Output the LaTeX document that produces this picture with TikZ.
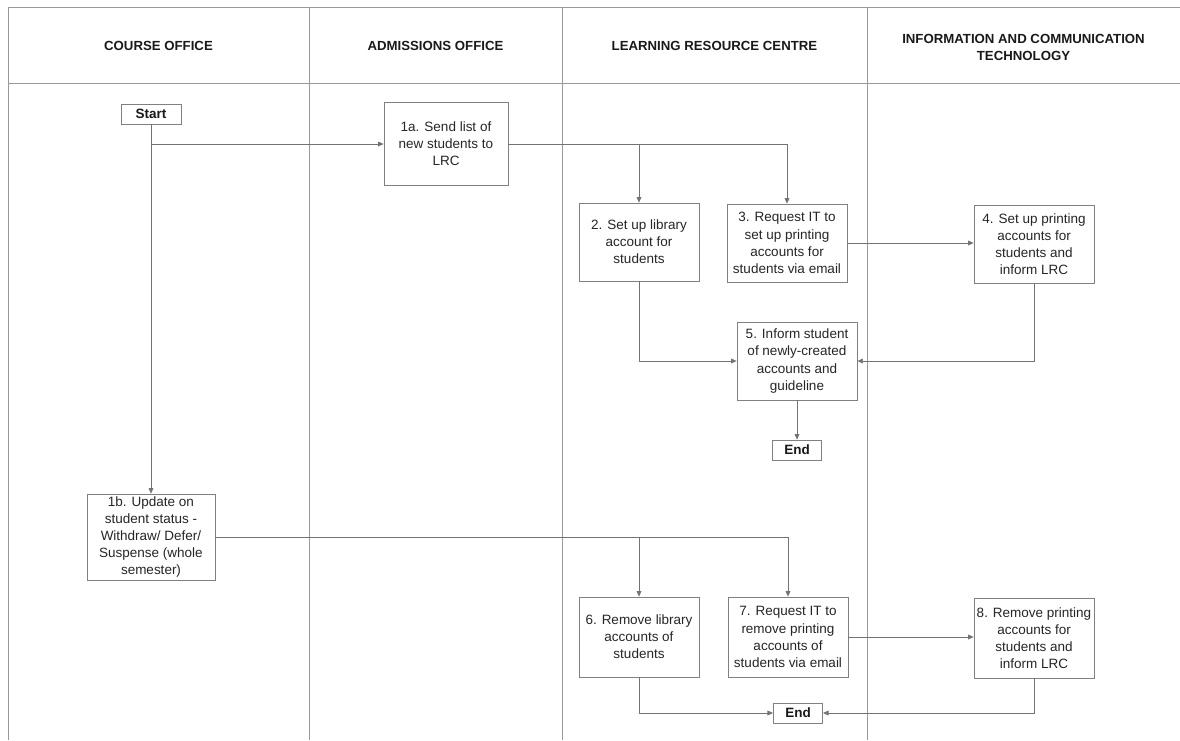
\documentclass[tikz,border=0pt]{standalone}
\usepackage{fontspec}
\setmainfont{Liberation Sans}
\usetikzlibrary{arrows.meta}

\begin{document}
\begin{tikzpicture}[x=2.5mm, y=2.5mm,
    lane/.style = {draw=black!40, line width=.5pt},
    lanehead/.style = {font=\fontsize{9.4}{12}\selectfont\bfseries, align=center, text=black!90},
    task/.style = {draw=black!50, line width=.5pt, fill=white, align=center, inner sep=1pt,
                   minimum width=30mm, minimum height=19.5mm,
                   font=\fontsize{9.6}{12.2}\selectfont, text=black!85},
    term/.style = {draw=black!50, line width=.5pt, fill=white, inner sep=1pt,
                   minimum width=12.3mm, minimum height=5mm,
                   font=\fontsize{9.6}{11}\selectfont\bfseries, text=black!90},
    flow/.style = {draw=black!55, line width=.5pt, -{Triangle[length=1.4mm,width=1.2mm]}}]
		\useasboundingbox (0,0) rectangle (118,-74);
		\begin{scope}
		\draw[lane] (118,-0.75) -- (0.8,-0.75) -- (0.8,-74);
		\draw[lane] (0.8,-8.3) -- (118,-8.3);
		\draw[lane] (30.9,-0.75) -- (30.9,-74);
		\draw[lane] (56.2,-0.75) -- (56.2,-74);
		\draw[lane] (86.7,-0.75) -- (86.7,-74);
		\node[lanehead] (hcourse) at (15.85,-4.6) {COURSE OFFICE};
		\node[lanehead] (hadmit) at (43.55,-4.6) {ADMISSIONS OFFICE};
		\node[lanehead] (hlrc) at (71.45,-4.6) {LEARNING RESOURCE CENTRE};
		\node[lanehead] (hict) at (102.35,-4.75) {INFORMATION AND COMMUNICATION\\TECHNOLOGY};
		\end{scope}

		\node[term, minimum width=15mm] (start) at (15.1,-11.4) {Start};
		\node[task, minimum width=31mm, minimum height=20.7mm] (n1a) at (44.6,-14.4) {1a. Send list of\\new students to\\LRC};
		\node[task] (n2) at (63.9,-24.2) {2. Set up library\\account for\\students};
		\node[task] (n3) at (78.7,-24.3) {3. Request IT to\\set up printing\\accounts for\\students via email};
		\node[task] (n4) at (103.4,-24.4) {4. Set up printing\\accounts for\\students and\\inform LRC};
		\node[task] (n5) at (79.7,-36.1) {5. Inform student\\of newly-created\\accounts and\\guideline};
		\node[term] (end1) at (79.7,-45.0) {End};
		\node[task, minimum width=32mm, minimum height=21.5mm] (n1b) at (15.1,-53.7) {1b. Update on\\student status -\\Withdraw/ Defer/\\Suspense (whole\\semester)};
		\node[task, minimum height=20mm] (n6) at (63.9,-63.7) {6. Remove library\\accounts of\\students};
		\node[task, minimum height=20mm] (n7) at (78.8,-63.7) {7. Request IT to\\remove printing\\accounts of\\students via email};
		\node[task, minimum height=20mm] (n8) at (103.4,-63.8) {8. Remove printing\\accounts for\\students and\\inform LRC};
		\node[term] (end2) at (79.8,-71.3) {End};

		\draw[flow] (start.south) -- (n1b.north);
		\draw[flow] (start.south |- n1a.west) -- (n1a.west);
		\draw[flow] (n1a.east) -| (n3.north);
		\draw[flow] (n1a.east -| n2.north) -- (n2.north);
		\draw[flow] (n3.east) -- (n3.east -| n4.west);
		\draw[flow] (n2.south) |- (n5.west);
		\draw[flow] (n4.south) |- (n5.east);
		\draw[flow] (n5.south) -- (end1.north);
		\draw[flow] (n1b.east) -| (n7.north);
		\draw[flow] (n1b.east -| n6.north) -- (n6.north);
		\draw[flow] (n7.east) -- (n7.east -| n8.west);
		\draw[flow] (n6.south) |- (end2.west);
		\draw[flow] (n8.south) |- (end2.east);
		\end{tikzpicture}
\end{document}
